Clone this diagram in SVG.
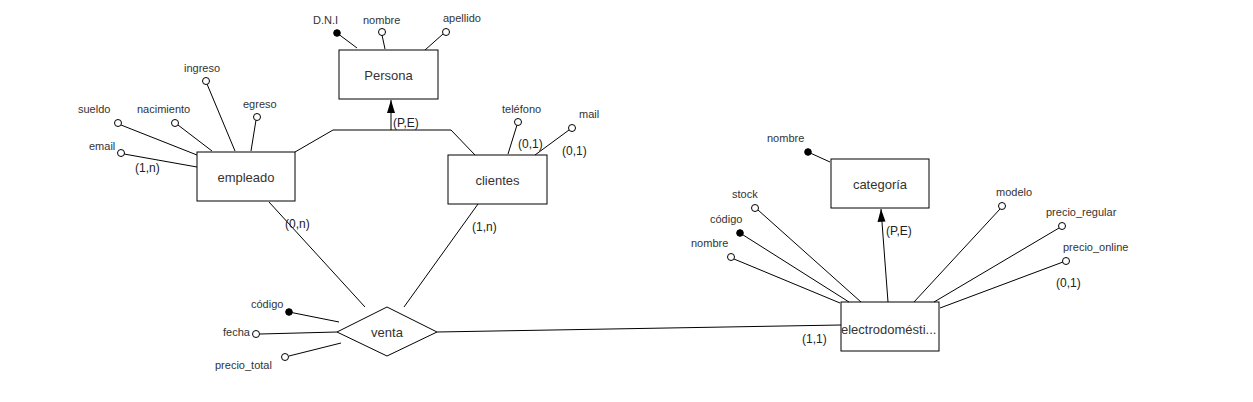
<svg xmlns="http://www.w3.org/2000/svg" width="1253" height="402" viewBox="0 0 1253 402">
<defs>
<style>
.ent{fill:#fff;stroke:#000;stroke-width:1}
.ln{stroke:#000;stroke-width:1;fill:none}
.oa{fill:#fff;stroke:#000;stroke-width:1}
.ka{fill:#000;stroke:#000;stroke-width:1}
.arr{fill:#000}
.lbl{font-family:"Liberation Sans",Arial,sans-serif;font-size:11px;fill:#333}
.name{font-family:"Liberation Sans",Arial,sans-serif;font-size:13px;fill:#333;text-anchor:middle}
.card{font-family:"Liberation Sans",Arial,sans-serif;font-size:12px;fill:#222}
</style>
</defs>
<rect width="1253" height="402" fill="#fff"/>
<g id="connectors">
<line class="ln" x1="391" y1="130" x2="391" y2="100"/>
<path class="arr" d="M387,113 L391,100 L395,113 Z"/>
<line class="ln" x1="333" y1="130" x2="451" y2="130"/>
<line class="ln" x1="333" y1="130" x2="295" y2="152"/>
<line class="ln" x1="451" y1="130" x2="475" y2="155"/>
<line class="ln" x1="269" y1="202" x2="365" y2="307"/>
<line class="ln" x1="478" y1="204" x2="404" y2="307"/>
<line class="ln" x1="437" y1="332" x2="841" y2="325"/>
<line class="ln" x1="888" y1="302" x2="881" y2="209"/>
<path class="arr" d="M877.5,222 L881,209 L885.5,221.5 Z"/>
</g>
<g id="persona">
<rect class="ent" x="339" y="50" width="99" height="49"/>
<text class="name" x="388.5" y="80">Persona</text>
<line class="ln" x1="337" y1="33" x2="357" y2="48"/>
<circle class="ka" cx="337" cy="33" r="3.3"/>
<text class="lbl" x="313" y="24">D.N.I</text>
<line class="ln" x1="382" y1="35" x2="385" y2="49"/>
<circle class="oa" cx="382" cy="32" r="3.5"/>
<text class="lbl" x="363" y="24">nombre</text>
<line class="ln" x1="443" y1="34" x2="425" y2="50"/>
<circle class="oa" cx="446" cy="32" r="3.5"/>
<text class="lbl" x="443" y="22">apellido</text>
<text class="card" x="393" y="127">(P,E)</text>
</g>
<g id="empleado">
<rect class="ent" x="197" y="152" width="98" height="49"/>
<text class="name" x="246" y="182">empleado</text>
<line class="ln" x1="207" y1="84" x2="235" y2="151"/>
<circle class="oa" cx="206" cy="81" r="3.5"/>
<text class="lbl" x="184" y="72">ingreso</text>
<line class="ln" x1="256" y1="120" x2="251" y2="151"/>
<circle class="oa" cx="257" cy="117" r="3.5"/>
<text class="lbl" x="243" y="108">egreso</text>
<line class="ln" x1="178" y1="125" x2="212" y2="151"/>
<circle class="oa" cx="175" cy="123" r="3.5"/>
<text class="lbl" x="137" y="113">nacimiento</text>
<line class="ln" x1="121" y1="125" x2="197" y2="155"/>
<circle class="oa" cx="118" cy="123" r="3.5"/>
<text class="lbl" x="78" y="113">sueldo</text>
<line class="ln" x1="124" y1="154" x2="197" y2="167"/>
<circle class="oa" cx="121" cy="153" r="3.5"/>
<text class="lbl" x="89" y="150">email</text>
<text class="card" x="135" y="172">(1,n)</text>
<text class="card" x="285" y="228">(0,n)</text>
</g>
<g id="clientes">
<rect class="ent" x="448" y="155" width="99" height="49"/>
<text class="name" x="497.5" y="185">clientes</text>
<line class="ln" x1="517" y1="125" x2="508" y2="154"/>
<circle class="oa" cx="518" cy="122" r="3.5"/>
<text class="lbl" x="502" y="113">teléfono</text>
<line class="ln" x1="569" y1="130" x2="535" y2="155"/>
<circle class="oa" cx="572" cy="128" r="3.5"/>
<text class="lbl" x="579" y="118">mail</text>
<text class="card" x="518" y="148">(0,1)</text>
<text class="card" x="562" y="155">(0,1)</text>
<text class="card" x="472" y="231">(1,n)</text>
</g>
<g id="venta">
<path class="ent" d="M337,332 L387,307 L437,332 L387,356 Z"/>
<text class="name" x="387" y="337">venta</text>
<line class="ln" x1="289" y1="312" x2="339" y2="322"/>
<circle class="ka" cx="289" cy="312" r="3.3"/>
<text class="lbl" x="251" y="308">código</text>
<line class="ln" x1="260" y1="334" x2="337" y2="332"/>
<circle class="oa" cx="256" cy="334" r="3.5"/>
<text class="lbl" x="223" y="336">fecha</text>
<line class="ln" x1="289" y1="356" x2="341" y2="343"/>
<circle class="oa" cx="285" cy="357" r="3.5"/>
<text class="lbl" x="215" y="369">precio_total</text>
</g>
<g id="categoria">
<rect class="ent" x="831" y="159" width="98" height="49"/>
<text class="name" x="880" y="189">categoría</text>
<line class="ln" x1="808" y1="152" x2="830" y2="162"/>
<circle class="ka" cx="808" cy="152" r="3.3"/>
<text class="lbl" x="767" y="142">nombre</text>
<text class="card" x="886" y="235">(P,E)</text>
</g>
<g id="electrodomestico">
<rect class="ent" x="841" y="302" width="98" height="49"/>
<text class="name" x="841" y="334" style="text-anchor:start">electrodomésti...</text>
<line class="ln" x1="758" y1="210" x2="861" y2="302"/>
<circle class="oa" cx="755" cy="208" r="3.5"/>
<text class="lbl" x="732" y="198">stock</text>
<line class="ln" x1="740" y1="233" x2="849" y2="302"/>
<circle class="ka" cx="740" cy="233" r="3.3"/>
<text class="lbl" x="710" y="223">código</text>
<line class="ln" x1="734" y1="259" x2="840" y2="303"/>
<circle class="oa" cx="731" cy="257" r="3.5"/>
<text class="lbl" x="691" y="247">nombre</text>
<line class="ln" x1="1000" y1="209" x2="914" y2="302"/>
<circle class="oa" cx="1002" cy="206" r="3.5"/>
<text class="lbl" x="996" y="196">modelo</text>
<line class="ln" x1="1059" y1="228" x2="934" y2="302"/>
<circle class="oa" cx="1062" cy="226" r="3.5"/>
<text class="lbl" x="1046" y="216">precio_regular</text>
<line class="ln" x1="1063" y1="262" x2="940" y2="308"/>
<circle class="oa" cx="1066" cy="261" r="3.5"/>
<text class="lbl" x="1063" y="251">precio_online</text>
<text class="card" x="1056" y="287">(0,1)</text>
<text class="card" x="802" y="343">(1,1)</text>
</g>
</svg>
